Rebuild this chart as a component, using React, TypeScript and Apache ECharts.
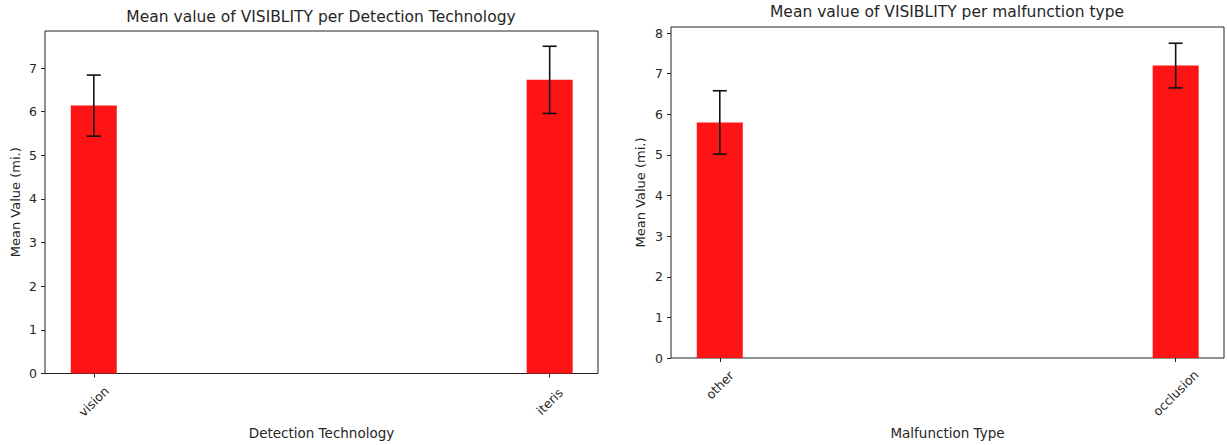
import React, { useEffect, useRef } from "react";
import * as echarts from "echarts";

const leftCategories = ["vision", "iteris"];
const leftMeans = [6.14, 6.73];
const leftErrors = [0.7, 0.77];

const rightCategories = ["other", "occlusion"];
const rightMeans = [5.8, 7.2];
const rightErrors = [0.78, 0.55];

const leftYTicks = [0, 1, 2, 3, 4, 5, 6, 7];
const rightYTicks = [0, 1, 2, 3, 4, 5, 6, 7, 8];

const leftTitle = "Mean value of VISIBLITY per Detection Technology";
const rightTitle = "Mean value of VISIBLITY per malfunction type";
const leftXName = "Detection Technology";
const rightXName = "Malfunction Type";
const yName = "Mean Value (mi.)";

const FONT = "DejaVu Sans";
const TEXT = "#262626";
const BAR = "#fe1414";

export default function App() {
  const ref = useRef<HTMLDivElement>(null);

  useEffect(() => {
    if (!ref.current) return;
    const chart = echarts.init(ref.current, undefined, { renderer: "svg" });

    const grids = [
      { left: 45, top: 31, width: 553, height: 346, xMin: -0.107, xMax: 1.106, yMax: 7.85, cats: leftCategories, means: leftMeans, errs: leftErrors, yTicks: leftYTicks, xName: leftXName, xNameGap: 50, yNameGap: 23, labelMargins: [28, 28] },
      { left: 671, top: 27, width: 553, height: 332, xMin: -0.107, xMax: 1.106, yMax: 8.15, cats: rightCategories, means: rightMeans, errs: rightErrors, yTicks: rightYTicks, xName: rightXName, xNameGap: 68, yNameGap: 24, labelMargins: [27, 35] },
    ];

    const grid: any[] = [];
    const xAxis: any[] = [];
    const yAxis: any[] = [];
    const series: any[] = [];

    grids.forEach((g, gi) => {
      grid.push({
        left: g.left,
        top: g.top,
        width: g.width,
        height: g.height,
        show: true,
        borderColor: "#222",
        borderWidth: 1,
        backgroundColor: "#fff",
      });
      const baseX = xAxis.length;
      g.cats.forEach((c, ci) => {
        xAxis.push({
          type: "value",
          gridIndex: gi,
          min: g.xMin,
          max: g.xMax,
          position: "bottom",
          splitLine: { show: false },
          axisLine: { show: false, onZero: false },
          axisTick: {
            show: true,
            customValues: [ci],
            length: 4,
            lineStyle: { color: "#222", width: 1 },
          },
          axisLabel: {
            show: true,
            customValues: [ci],
            formatter: (v: number) => g.cats[Math.round(v)] ?? "",
            rotate: 45,
            align: "center",
            verticalAlign: "middle",
            margin: g.labelMargins[ci],
            fontFamily: FONT,
            fontSize: 12.5,
            color: TEXT,
          },
          name: ci === 0 ? g.xName : "",
          nameLocation: "middle",
          nameGap: g.xNameGap,
          nameTextStyle: { fontFamily: FONT, fontSize: 13.5, color: TEXT },
        });
      });
      yAxis.push({
        type: "value",
        gridIndex: gi,
        min: 0,
        max: g.yMax,
        splitLine: { show: false },
        axisLine: { show: false, onZero: false },
        axisTick: {
          show: true,
          customValues: g.yTicks,
          length: 4,
          lineStyle: { color: "#222", width: 1 },
        },
        axisLabel: {
          customValues: g.yTicks,
          margin: 8,
          fontFamily: FONT,
          fontSize: 12.5,
          color: TEXT,
        },
        name: yName,
        nameLocation: "middle",
        nameGap: g.yNameGap,
        nameTextStyle: { fontFamily: FONT, fontSize: 13, color: TEXT },
      });

      series.push({
        type: "bar",
        xAxisIndex: baseX,
        yAxisIndex: gi,
        barWidth: 46,
        itemStyle: { color: BAR },
        data: g.means.map((m, i) => [i, m]),
      });
      series.push({
        type: "custom",
        xAxisIndex: baseX,
        yAxisIndex: gi,
        z: 5,
        clip: false,
        data: g.means.map((m, i) => [i, m - g.errs[i], m + g.errs[i]]),
        renderItem: (_p: any, api: any) => {
          const x = api.value(0);
          const hi = api.coord([x, api.value(2)]);
          const lo = api.coord([x, api.value(1)]);
          const cap = 7;
          const st = { stroke: "#111", lineWidth: 1.6 };
          return {
            type: "group",
            children: [
              { type: "line", shape: { x1: hi[0], y1: hi[1], x2: lo[0], y2: lo[1] }, style: st },
              { type: "line", shape: { x1: hi[0] - cap, y1: hi[1], x2: hi[0] + cap, y2: hi[1] }, style: st },
              { type: "line", shape: { x1: lo[0] - cap, y1: lo[1], x2: lo[0] + cap, y2: lo[1] }, style: st },
            ],
          };
        },
      });
    });

    chart.setOption({
      animation: false,
      backgroundColor: "#fff",
      title: [
        { text: leftTitle, left: 321, top: 9, textAlign: "center", padding: 0, textStyle: { fontFamily: FONT, fontSize: 15.5, fontWeight: "normal", color: TEXT } },
        { text: rightTitle, left: 947, top: 4, textAlign: "center", padding: 0, textStyle: { fontFamily: FONT, fontSize: 15.5, fontWeight: "normal", color: TEXT } },
      ],
      grid,
      xAxis,
      yAxis,
      series,
    });

    return () => chart.dispose();
  }, []);

  return (
    <div
      ref={ref}
      style={{ position: "absolute", left: 0, top: 0, width: 1227, height: 445 }}
    />
  );
}
